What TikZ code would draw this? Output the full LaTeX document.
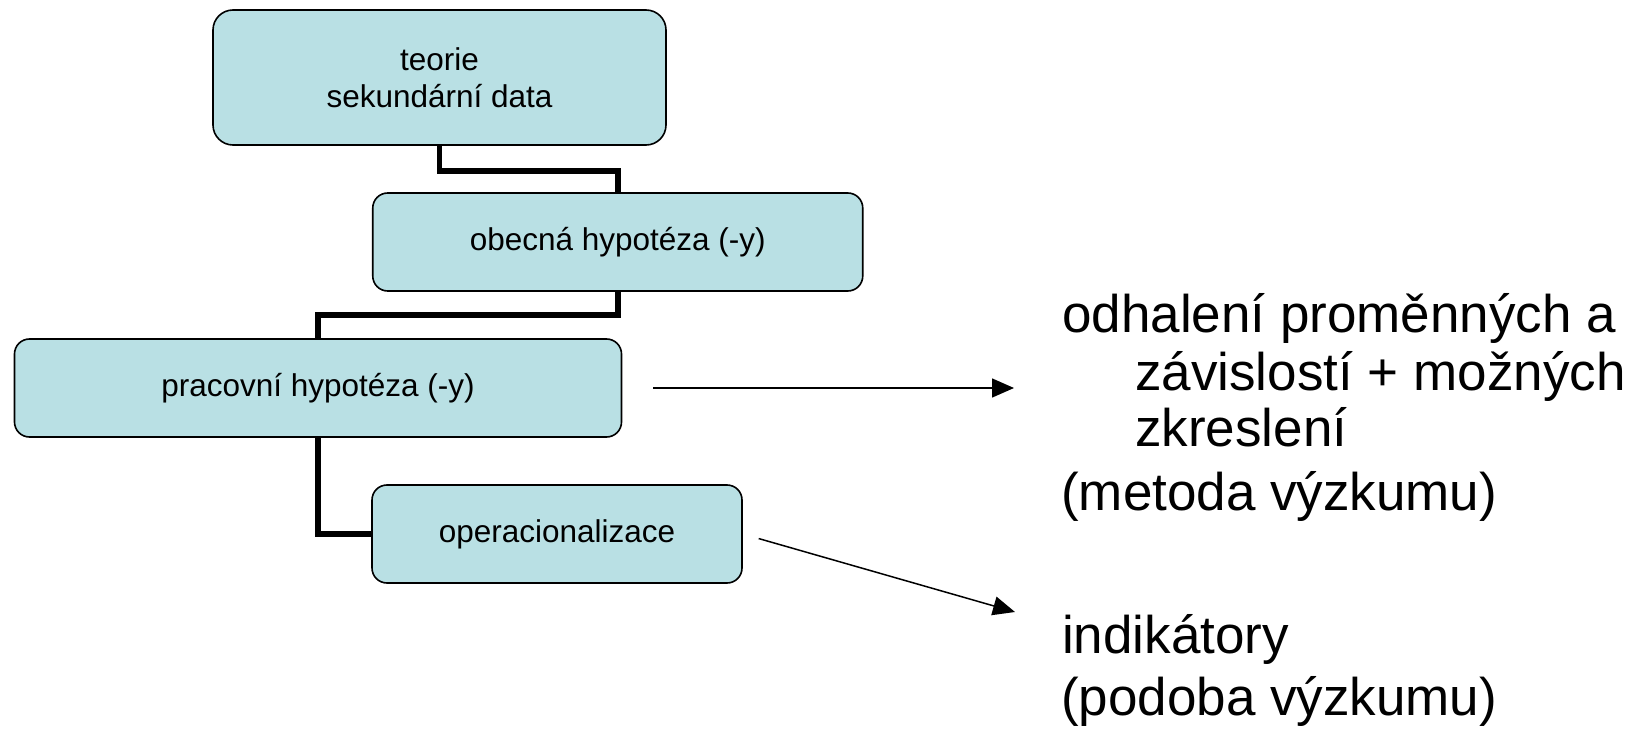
\documentclass[tikz,border=0pt]{standalone}
\usepackage{fontspec}
\setmainfont{Liberation Sans}
\usetikzlibrary{arrows.meta,positioning}
\definecolor{boxfill}{RGB}{185,224,228}
\tikzset{
  hbox/.style={draw=black, line width=1.6pt, fill=boxfill, rounded corners=15pt,
    inner sep=0pt, align=center, font=\fontsize{31.5}{37}\selectfont},
  link/.style={draw=black, line width=5.5pt},
  arr/.style={draw=black, line width=1.5pt, -{Triangle[length=22pt,width=19pt]}},
  bigtext/.style={anchor=base west, inner sep=0pt, font=\fontsize{53}{60}\selectfont}
}
\begin{document}
\begin{tikzpicture}[x=1pt,y=-1pt]
\useasboundingbox (0,0) rectangle (1636,738);
\node[hbox, rounded corners=20pt, minimum width=453pt, minimum height=135pt] (b1) at (439.5,77.5) {teorie\\sekundární data};
\node[hbox, minimum width=490pt, minimum height=98pt] (b2) at (617.75,242) {obecná hypotéza (-y)};
\node[hbox, minimum width=607pt, minimum height=98pt] (b3) at (318,388) {pracovní hypotéza (-y)};
\node[hbox, minimum width=370pt, minimum height=98pt] (b4) at (557,534) {operacionalizace};

\draw[link] (b1.south) -- ++(0,25) -| (b2.north);
\draw[link] (b2.south) -- ++(0,23) -| (b3.north);
\draw[link] (b3.south) |- (b4.west);

\node[bigtext] (t1) at (1062,332) {odhalení proměnných a};
\node[bigtext] (t2) at (1135,390) {závislostí + možných};
\node[bigtext] (t3) at (1135,446) {zkreslení};
\node[bigtext] (t4) at (1061,510) {(metoda výzkumu)};
\node[bigtext] (t5) at (1062,653) {indikátory};
\node[bigtext] (t6) at (1061,715) {(podoba výzkumu)};

\coordinate (a1e) at (1014,388);
\coordinate (a2e) at (1015,612);
\draw[arr, shorten <=31pt] (b3.east) -- (a1e);
\draw[arr, shorten <=16.5pt] (b4.east) -- (a2e);
\end{tikzpicture}
\end{document}
